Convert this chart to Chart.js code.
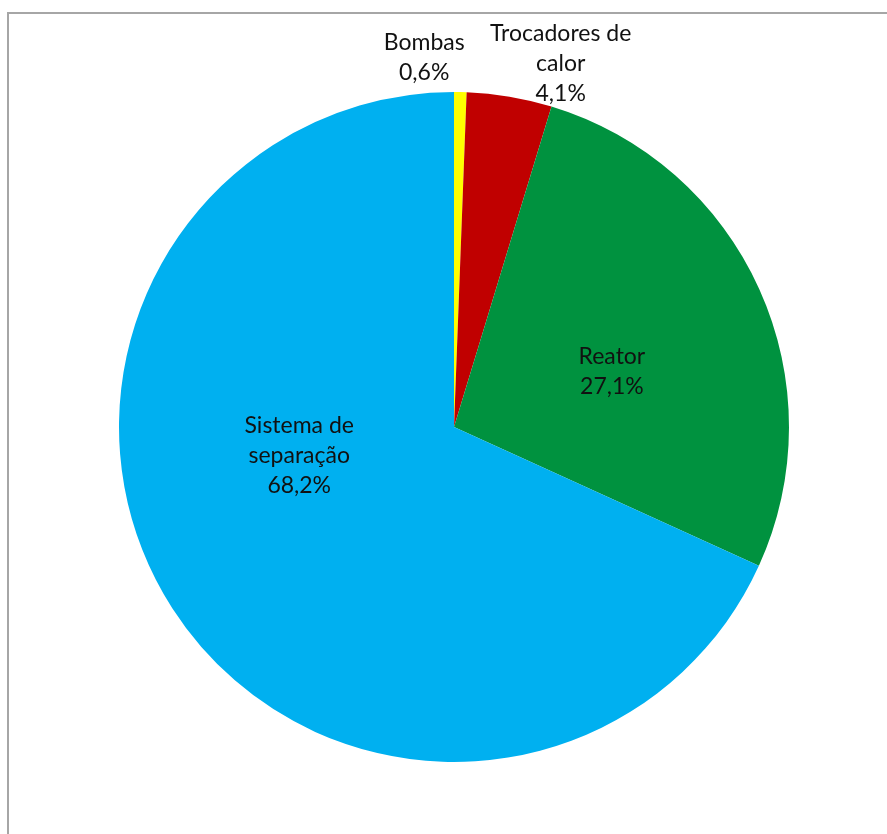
<!DOCTYPE html>
<html>
<head>
<meta charset="utf-8">
<script src="https://cdn.jsdelivr.net/npm/chart.js@4/dist/chart.umd.min.js"></script>
<style>
  html, body { margin: 0; padding: 0; background: #ffffff; }
  #wrap { position: relative; width: 887px; height: 834px; }
</style>
</head>
<body>
<div id="wrap"><canvas id="chart" width="887" height="834"></canvas></div>
<script>
// Share of each equipment group (percent)
const categories = ['Bombas', 'Trocadores de calor', 'Reator', 'Sistema de separação'];
const shares = [0.6, 4.1, 27.1, 68.2];
const shareLabels = ['0,6%', '4,1%', '27,1%', '68,2%'];
// Multi-line label text for each slice
const labelLines = [
  ['Bombas', '0,6%'],
  ['Trocadores de', 'calor', '4,1%'],
  ['Reator', '27,1%'],
  ['Sistema de', 'separação', '68,2%']
];

const sliceColors = ['#FFFF00', '#C00000', '#00923F', '#00B0F0'];

// Where each label sits: angle offset from the slice's mid-angle (degrees) and distance as a fraction of the radius
const labelPlacement = [
  { dAngle: -5.7, dist: 1.105 },
  { dAngle: 6.8, dist: 1.132 },
  { dAngle: 4.8, dist: 0.50 },
  { dAngle: 22.2, dist: 0.47 }
];

const frame = {
  id: 'frame',
  beforeDraw(chart) {
    const ctx = chart.ctx;
    ctx.save();
    ctx.strokeStyle = '#a6a6a6';
    ctx.lineWidth = 2;
    ctx.beginPath();
    ctx.moveTo(8, 834);
    ctx.lineTo(8, 13);
    ctx.lineTo(887, 13);
    ctx.stroke();
    ctx.restore();
  }
};

const sliceLabels = {
  id: 'sliceLabels',
  afterDatasetsDraw(chart) {
    const ctx = chart.ctx;
    const meta = chart.getDatasetMeta(0);
    ctx.save();
    ctx.font = '23px Lato, "Open Sans", sans-serif';
    ctx.fillStyle = '#111111';
    ctx.textAlign = 'center';
    ctx.textBaseline = 'middle';
    const lineH = 30;
    meta.data.forEach((arc, i) => {
      const p = arc.getProps(['x', 'y', 'startAngle', 'endAngle', 'outerRadius'], true);
      const mid = (p.startAngle + p.endAngle) / 2 + labelPlacement[i].dAngle * Math.PI / 180;
      const r = p.outerRadius * labelPlacement[i].dist;
      const cx = p.x + Math.cos(mid) * r;
      const cy = p.y + Math.sin(mid) * r;
      const lines = labelLines[i];
      const top = cy - (lines.length - 1) * lineH / 2;
      lines.forEach((t, k) => ctx.fillText(t, cx, top + k * lineH));
    });
    ctx.restore();
  }
};

new Chart(document.getElementById('chart'), {
  type: 'pie',
  data: {
    labels: categories,
    datasets: [{
      data: shares,
      backgroundColor: sliceColors,
      borderWidth: 0
    }]
  },
  options: {
    responsive: false,
    animation: false,
    rotation: 0,
    layout: { padding: { top: 92, bottom: 72, left: 119, right: 98 } },
    plugins: {
      legend: { display: false },
      tooltip: { enabled: false }
    }
  },
  plugins: [frame, sliceLabels]
});
</script>
</body>
</html>
